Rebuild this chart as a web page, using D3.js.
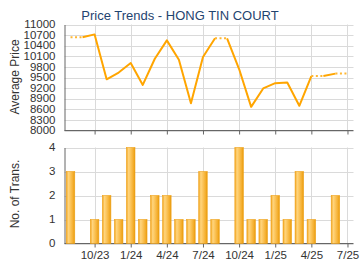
<!DOCTYPE html>
<html><head><meta charset="utf-8">
<script src="https://cdn.jsdelivr.net/npm/d3@7"></script>
<style>body{margin:0;background:#fff}svg{display:block}text{font-family:"Liberation Sans",Arial,sans-serif}</style>
</head><body><svg id="c" width="360" height="270"></svg>
<script>
const months = ["8/23","9/23","10/23","11/23","12/23","1/24","2/24","3/24","4/24","5/24","6/24","7/24","8/24","9/24","10/24","11/24","12/24","1/25","2/25","3/25","4/25","5/25","6/25","7/25"];
const prices = [10640,null,10720,9450,9640,9910,9290,10030,10550,10000,8770,10080,10610,null,9740,8670,9190,9340,9360,8700,9540,null,9610,null];
const trans = [3,0,1,2,1,4,1,2,2,1,1,3,1,0,4,1,1,2,1,3,1,0,2,0];
const tickLabels = ["10/23","1/24","4/24","7/24","10/24","1/25","4/25","7/25"];
const priceTicks = [8000,8300,8600,8900,9200,9500,9800,10100,10400,10700,11000];
const transTicks = [0,1,2,3,4];

const svg = d3.select("#c");
const L = 64.5, R = 353.5;
const x = d3.scaleLinear().domain([-0.5, 23.5]).range([L, R]);
const yP = d3.scaleLinear().domain([8000, 11000]).range([130.5, 24.5]);
const yT = d3.scaleLinear().domain([0, 4]).range([243.5, 147.5]);
const tickIdx = tickLabels.map(t => months.indexOf(t));

const defs = svg.append("defs");
const g = defs.append("linearGradient").attr("id","bg").attr("x1","0").attr("x2","1").attr("y1","0").attr("y2","0");
[[0,"#F2A41C"],[0.25,"#FFD57E"],[0.5,"#FBC45A"],[0.8,"#F4AE2E"],[1,"#E89A0A"]].forEach(s=>g.append("stop").attr("offset",s[0]).attr("stop-color",s[1]));

// Title
svg.append("text").attr("x",180).attr("y",19.5).attr("text-anchor","middle").attr("font-size",13).attr("fill","#1F4470").text("Price Trends - HONG TIN COURT");

function grid(y, ticks, y0, y1){
  const gg = svg.append("g");
  gg.selectAll(".h").data(ticks).join("line").attr("x1",L).attr("x2",R).attr("y1",d=>Math.round(y(d))+0.5).attr("y2",d=>Math.round(y(d))+0.5).attr("stroke","#DADADA").attr("stroke-width",1);
  gg.selectAll(".v").data(tickIdx).join("line").attr("x1",d=>Math.round(x(d))+0.5).attr("x2",d=>Math.round(x(d))+0.5).attr("y1",y1).attr("y2",y0).attr("stroke","#DADADA");
}
grid(yP, priceTicks, 130.5, 24.5);
grid(yT, transTicks, 243.5, 147.5);

// Y axes
const axP = svg.append("g").attr("transform",`translate(${L},0)`).call(d3.axisLeft(yP).tickValues(priceTicks).tickSize(0).tickPadding(9).tickFormat(d3.format("d")));
const axT = svg.append("g").attr("transform",`translate(${L},0)`).call(d3.axisLeft(yT).tickValues(transTicks).tickSize(0).tickPadding(9).tickFormat(d3.format("d")));
[axP,axT].forEach(a=>{a.select(".domain").attr("stroke","#666");a.selectAll("text").attr("font-size",11.5).attr("fill","#333").attr("font-family","Liberation Sans, Arial, sans-serif").attr("dy","0.28em");});

// X axes
const xP = svg.append("g").attr("transform","translate(0,130.5)").call(d3.axisBottom(x).tickValues(tickIdx).tickSize(4).tickFormat(""));
const xT = svg.append("g").attr("transform","translate(0,243.5)").call(d3.axisBottom(x).tickValues(tickIdx).tickSize(4).tickPadding(3).tickFormat(i=>months[i]));
[xP,xT].forEach(a=>{a.select(".domain").attr("stroke","#666").attr("d",`M${L},0H${R}`);a.selectAll("line").attr("stroke","#666");a.selectAll("text").attr("font-size",11.5).attr("fill","#333").attr("font-family","Liberation Sans, Arial, sans-serif");});

// Axis titles
svg.append("text").attr("transform","translate(19,77) rotate(-90)").attr("text-anchor","middle").attr("font-size",12).attr("fill","#333").text("Average Price");
svg.append("text").attr("transform","translate(19,194) rotate(-90)").attr("text-anchor","middle").attr("font-size",12).attr("fill","#333").text("No. of Trans.");

// Bars
const bw = 8.5;
svg.append("g").selectAll("rect").data(trans.map((v,i)=>({v,i})).filter(d=>d.v>0)).join("rect")
  .attr("x",d=>x(d.i)-bw/2).attr("width",bw).attr("y",d=>yT(d.v)).attr("height",d=>yT(0)-yT(d.v))
  .attr("fill","url(#bg)").attr("stroke","#EFA21A").attr("stroke-width",0.6);

// Price line: carry forward values for months with no data; segments ending in no-data months are dotted
const filled = []; let last = null;
prices.forEach((p,i)=>{ if(p!=null) last=p; filled.push(last); });
const segs = [];
for(let i=1;i<filled.length;i++) segs.push({a:i-1,b:i,dotted:prices[i]==null});
const lineG = svg.append("g");
let run = [];
function flush(){ if(run.length>1) lineG.append("path").attr("d",d3.line().x(i=>x(i)).y(i=>yP(filled[i]))(run)).attr("fill","none").attr("stroke","#FFA500").attr("stroke-width",2).attr("stroke-linejoin","round"); run=[]; }
segs.forEach(s=>{ if(s.dotted){ flush(); } else { if(run.length===0) run.push(s.a); run.push(s.b);} });
flush();
segs.filter(s=>s.dotted).forEach(s=>{
  lineG.append("path").attr("d",d3.line().x(i=>x(i)).y(i=>yP(filled[i]))([s.a,s.b])).attr("fill","none").attr("stroke","#FFB733").attr("stroke-width",2).attr("stroke-dasharray","2,2.5");
});
</script></body></html>
